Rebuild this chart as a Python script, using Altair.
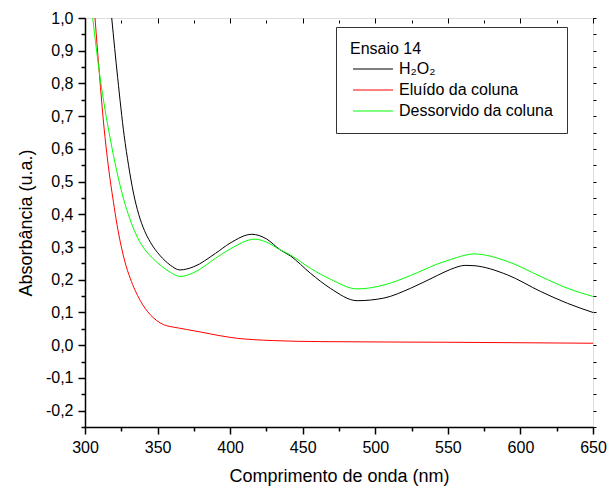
import altair as alt
import pandas as pd

# Series names
series_names = ["H₂O₂", "Eluído da coluna", "Dessorvido da coluna"]
series_colors = ["#000000", "#FF0000", "#00FF00"]

# H2O2 (black)
h2o2_nm = [318.4, 322.5, 327.0, 330.0, 333.4, 337.0, 341.0, 345.0, 351.5, 358.7, 365.3,
           375.0, 390.0, 400.0, 415.0, 425.0, 434.6, 441.5, 455.3, 469.0, 487.5,
           505.9, 524.3, 542.7, 552.0, 562.0, 568.0, 591.0, 614.0, 632.4, 650.0]
h2o2_abs = [1.0, 0.818, 0.64, 0.55, 0.465, 0.40, 0.35, 0.315, 0.275, 0.245, 0.230,
            0.240, 0.281, 0.312, 0.339, 0.325, 0.291, 0.273, 0.220, 0.174, 0.136,
            0.144, 0.174, 0.213, 0.232, 0.244, 0.243, 0.215, 0.164, 0.128, 0.100]

# Eluído da coluna (red)
elu_nm = [306.9, 309.9, 313.0, 316.0, 319.5, 322.0, 324.2, 327.5, 331.1, 334.5,
          338.0, 341.5, 345.0, 349.5, 354.0, 360.0, 365.0, 370.0, 380.0, 393.0,
          405.0, 416.0, 430.0, 462.0, 550.0, 650.0]
elu_abs = [1.0, 0.83, 0.67, 0.55, 0.44, 0.37, 0.318, 0.255, 0.205, 0.168,
           0.137, 0.112, 0.093, 0.075, 0.063, 0.056, 0.052, 0.048, 0.040, 0.029,
           0.021, 0.017, 0.014, 0.011, 0.009, 0.006]

# Dessorvido da coluna (green)
des_nm = [305.3, 310.4, 317.3, 322.0, 326.5, 331.0, 335.0, 340.0, 345.0, 351.8, 358.7,
          365.6, 375.0, 390.0, 400.0, 417.0, 425.0, 434.6, 441.5, 455.3, 469.0,
          487.5, 505.9, 524.3, 542.7, 552.0, 568.0, 591.0, 614.0, 632.4, 650.0]
des_abs = [1.0, 0.818, 0.633, 0.53, 0.448, 0.385, 0.34, 0.30, 0.273, 0.245, 0.223,
           0.21, 0.222, 0.266, 0.294, 0.324, 0.315, 0.291, 0.276, 0.235, 0.202,
           0.172, 0.184, 0.213, 0.248, 0.262, 0.279, 0.256, 0.21, 0.174, 0.149]

x_ticks = list(range(300, 651, 25))
y_ticks = [round(-0.25 + 0.05 * i, 2) for i in range(26)]

rows = []
for name, xs, ys in [(series_names[0], h2o2_nm, h2o2_abs),
                     (series_names[1], elu_nm, elu_abs),
                     (series_names[2], des_nm, des_abs)]:
    for order, (xv, yv) in enumerate(zip(xs, ys)):
        rows.append({"serie": name, "nm": xv, "abs": yv, "order": order})
df = pd.DataFrame(rows)

FONT = "Liberation Sans"

x_scale = alt.Scale(domain=[300, 650], nice=False, zero=False)
y_scale = alt.Scale(domain=[-0.25, 1.0], nice=False, zero=False)

y_label_expr = "abs(datum.value*10 - round(datum.value*10)) < 0.001 ? replace(replace(format(datum.value, '.1f'), '.', ','), '\u2212', '-') : ''"
y_major_test = "abs(datum.value*10 - round(datum.value*10)) < 0.001"
x_major_test = "datum.value % 50 === 0"

main = alt.Chart(df).mark_line(strokeWidth=1, clip=True, interpolate="monotone").encode(
    x=alt.X("nm:Q", scale=x_scale,
            axis=alt.Axis(title="Comprimento de onda (nm)", values=x_ticks,
                          labelExpr="datum.value % 50 === 0 ? datum.label : ''",
                          tickSize={"condition": {"test": x_major_test, "value": 7}, "value": 4},
                          grid=False, domain=True, domainColor="black", tickColor="black",
                          domainWidth=1.5, tickWidth=1.5,
                          labelFontSize=16, labelColor="black", labelPadding=5,
                          titleFontSize=18, titleFontWeight="normal", titleColor="black",
                          titlePadding=12, labelFont=FONT, titleFont=FONT, labelFlush=False)),
    y=alt.Y("abs:Q", scale=y_scale,
            axis=alt.Axis(title="Absorbância (u.a.)", values=y_ticks,
                          labelExpr=y_label_expr,
                          tickSize={"condition": {"test": y_major_test, "value": 7}, "value": 4},
                          grid=False, domain=True, domainColor="black", tickColor="black",
                          domainWidth=1.5, tickWidth=1.5,
                          labelFontSize=16, labelColor="black", labelPadding=5,
                          titleFontSize=18, titleFontWeight="normal", titleColor="black",
                          titlePadding=10, labelFont=FONT, titleFont=FONT, labelFlush=False)),
    color=alt.Color("serie:N",
                    scale=alt.Scale(domain=series_names, range=series_colors),
                    legend=alt.Legend(orient="none", legendX=251, legendY=9,
                                      title="Ensaio 14", titleFontSize=16,
                                      titleFontWeight="normal", titleColor="black",
                                      titleFont=FONT, labelFont=FONT,
                                      labelFontSize=16, labelColor="black",
                                      padding=14, strokeColor="#333333",
                                      fillColor="white",
                                      symbolType="M-4,0H4", symbolSize=100,
                                      symbolStrokeWidth=1, symbolOffset=15,
                                      labelOffset=18, rowPadding=5,
                                      titlePadding=4)),
    order="order:Q",
)

frame = alt.Chart(df).mark_line(opacity=0).encode(
    x=alt.X("nm:Q", scale=x_scale,
            axis=alt.Axis(orient="top", title=None, values=x_ticks, labels=False,
                          tickSize={"condition": {"test": x_major_test, "value": 5}, "value": 3},
                          offset=-5, domain=False, grid=False,
                          tickColor="black", tickWidth=1)),
    y=alt.Y("abs:Q", scale=y_scale,
            axis=alt.Axis(orient="right", title=None, values=y_ticks, labels=False,
                          tickSize=3, domain=False, grid=False,
                          tickColor="black", tickWidth=1)),
    detail="serie:N",
)

chart = alt.layer(main, frame).resolve_axis(x="independent", y="independent").properties(
    width=508, height=409,
    autosize=alt.AutoSizeParams(type="none"),
    padding={"left": 85, "top": 18, "right": 21, "bottom": 61},
).configure_view(stroke="black", strokeWidth=1.5).configure(font=FONT, background="white")

chart.save("out.html", embed_options={"renderer": "svg", "actions": False})
